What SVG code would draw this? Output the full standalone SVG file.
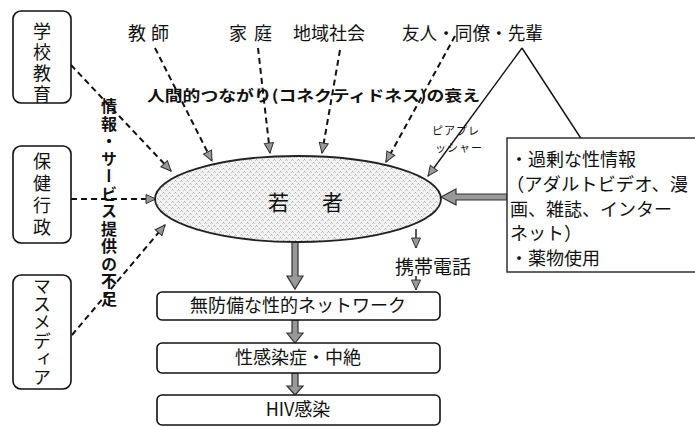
<svg xmlns="http://www.w3.org/2000/svg" width="695" height="427" viewBox="0 0 695 427">
<style>
text{font-family:"Noto Sans CJK JP","Noto Sans",sans-serif;fill:#111}
.box{fill:#fff;stroke:#111;stroke-width:1.6}
.lbl{font-size:18px}
.vert{writing-mode:vertical-rl}
.dash{fill:none;stroke:#111;stroke-width:2;stroke-dasharray:6 4}
.thin{fill:none;stroke:#111;stroke-width:1.4}
.thick{fill:#999;stroke:#333;stroke-width:1.2}
.bold{font-weight:bold}
</style>
<defs>
<marker id="ah" markerUnits="userSpaceOnUse" markerWidth="12" markerHeight="12" viewBox="0 0 12 12" refX="11" refY="6" orient="auto">
<path d="M1,1.5 L11,6 L1,10.5 Z" fill="#999" stroke="#333" stroke-width="1"/>
</marker>
<pattern id="stip" width="6" height="6" patternUnits="userSpaceOnUse">
<rect width="6" height="6" fill="#f2f2f2"/>
<path d="M0.5,1.5 l1,-1 l1,1 M3.5,4.5 l1,-1 l1,1" stroke="#7a7a7a" stroke-width="0.7" fill="none"/>
</pattern>
</defs>

<g id="connectors">
<line class="dash" x1="71" y1="65" x2="171" y2="171" marker-end="url(#ah)"/>
<line class="dash" x1="71" y1="199" x2="156" y2="199" marker-end="url(#ah)"/>
<line class="dash" x1="72" y1="335" x2="165" y2="225" marker-end="url(#ah)"/>
<line class="dash" x1="155" y1="48" x2="212" y2="161" marker-end="url(#ah)"/>
<line class="dash" x1="258" y1="48" x2="270" y2="153" marker-end="url(#ah)"/>
<line class="dash" x1="340" y1="50" x2="322" y2="153" marker-end="url(#ah)"/>
<line class="dash" x1="455" y1="36" x2="386" y2="162" marker-end="url(#ah)"/>
<polyline class="thin" points="582,140 522,48"/>
<line class="thin" x1="522" y1="48" x2="428" y2="176" marker-end="url(#ah)"/>
<line class="thin" x1="416" y1="229" x2="416" y2="248" marker-end="url(#ah)"/>
<line class="thin" x1="416" y1="276" x2="416" y2="290" marker-end="url(#ah)"/>
<path class="thick" d="M507,194 L456,194 L456,189 L441,197 L456,205 L456,200 L507,200 Z"/>
<path class="thick" d="M292,242 L292,276 L287,276 L295,289 L303,276 L298,276 L298,242 Z"/>
<path class="thick" d="M292,320 L292,333 L287,333 L295,343 L303,333 L298,333 L298,320 Z"/>
<path class="thick" d="M292,373 L292,386 L287,386 L295,395 L303,386 L298,386 L298,373 Z"/>
</g>

<g id="gakko">
<rect class="box" x="13" y="11" width="58" height="92" rx="8"/>
<text class="lbl vert" x="42" y="22" letter-spacing="3">学校教育</text>
</g>
<g id="hoken">
<rect class="box" x="13" y="146" width="58" height="97" rx="8"/>
<text class="lbl vert" x="42" y="152" letter-spacing="4">保健行政</text>
</g>
<g id="media">
<rect class="box" x="13" y="275" width="58" height="114" rx="8"/>
<text class="lbl vert" x="42" y="277" font-size="17" letter-spacing="0.3">マスメディア</text>
</g>

<g id="teachers"><text class="lbl" x="128" y="40" letter-spacing="5">教師</text></g>
<g id="family"><text class="lbl" x="229" y="40" letter-spacing="7">家庭</text></g>
<g id="community"><text class="lbl" x="293" y="40">地域社会</text></g>
<g id="friends"><text class="lbl" x="402" y="40" textLength="141" lengthAdjust="spacingAndGlyphs">友人・同僚・先輩</text></g>

<g id="connectedness"><text class="bold" x="147" y="101" font-size="15" textLength="333" lengthAdjust="spacingAndGlyphs">人間的つながり(コネクティドネス)の衰え</text></g>
<g id="service"><text class="bold vert" x="109" y="98" font-size="16" letter-spacing="1.5">情報・サービス提供の不足</text></g>

<g id="youth">
<ellipse cx="298" cy="199" rx="143" ry="43" fill="url(#stip)" stroke="#222" stroke-width="1.8"/>
<text x="268" y="210" font-size="21">若</text>
<text x="322" y="210" font-size="21">者</text>
</g>

<g id="peer">
<text x="432" y="135" font-size="11" letter-spacing="1">ピアプレ</text>
<text x="435" y="151.5" font-size="11" letter-spacing="1">ッシャー</text>
</g>

<g id="info">
<rect x="507" y="138" width="192" height="134" fill="#fff" stroke="#222" stroke-width="1.4"/>
<text x="510" y="166" font-size="18">・過剰な性情報</text>
<text x="506" y="191" font-size="18" textLength="182" lengthAdjust="spacingAndGlyphs">（アダルトビデオ、漫</text>
<text x="510" y="216" font-size="18">画、雑誌、インター</text>
<text x="510" y="240" font-size="18">ネット）</text>
<text x="510" y="265" font-size="18">・薬物使用</text>
</g>

<g id="phone"><text x="395" y="274" font-size="19">携帯電話</text></g>

<g id="network">
<rect class="box" x="157" y="292" width="283" height="28" rx="5"/>
<text x="298" y="312" font-size="18" text-anchor="middle">無防備な性的ネットワーク</text>
</g>
<g id="sti">
<rect class="box" x="157" y="343" width="283" height="30" rx="5"/>
<text x="298" y="364" font-size="18" text-anchor="middle">性感染症・中絶</text>
</g>
<g id="hiv">
<rect class="box" x="157" y="395" width="283" height="30" rx="5"/>
<text x="298" y="416" font-size="18" text-anchor="middle">HIV感染</text>
</g>
</svg>
